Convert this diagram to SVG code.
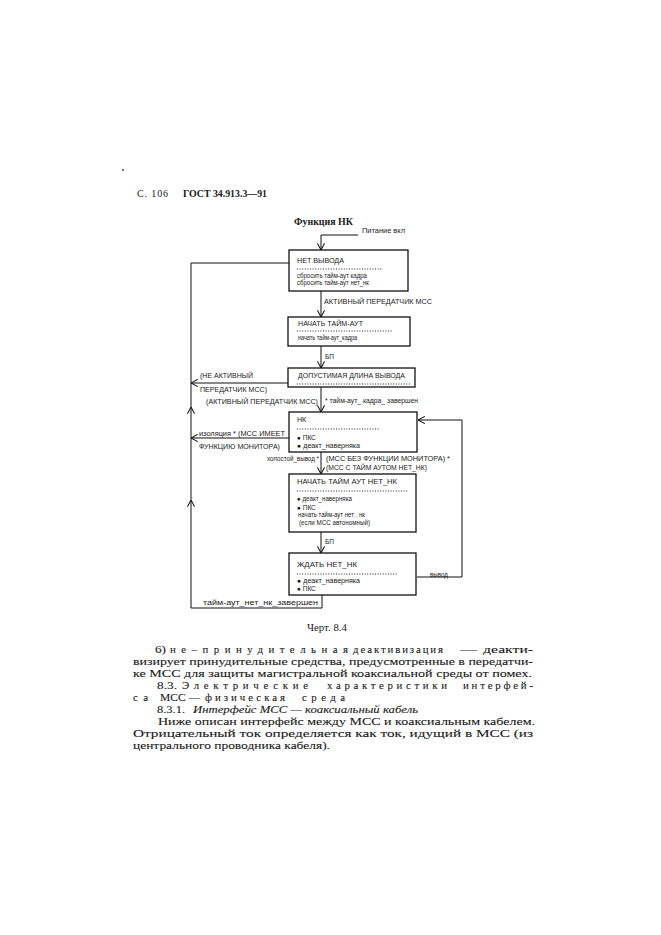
<svg xmlns="http://www.w3.org/2000/svg" width="661" height="935" viewBox="0 0 661 935">
<style>
.bx{fill:#fff;stroke:#111;stroke-width:1.3}
.ln{fill:none;stroke:#111;stroke-width:1}
.dt{stroke:#222;stroke-width:1;stroke-dasharray:1 1.6}
.t{font-family:"Liberation Sans",Arial,sans-serif;font-size:6.5px;fill:#1a1a1a}
.c{font-family:"Liberation Sans",Arial,sans-serif;font-size:7px;fill:#1a1a1a}
.s{font-family:"Liberation Serif","Times New Roman",serif;font-size:10.8px;fill:#1a1a1a;stroke:#1a1a1a;stroke-width:0.1}
.h{font-family:"Liberation Serif","Times New Roman",serif;font-size:10px;fill:#1a1a1a}
</style>
<defs>
<marker id="ar" viewBox="0 0 10 10" refX="9.5" refY="5" markerWidth="8" markerHeight="8" orient="auto" markerUnits="userSpaceOnUse">
<path d="M1,0.5 L9.5,5 L1,9.5" fill="none" stroke="#111" stroke-width="1.3"/>
</marker>
</defs>
<rect width="661" height="935" fill="#fff"/>
<circle cx="123" cy="170" r="0.9" fill="#333"/>
<g id="header">
<text class="h" x="137" y="197" textLength="31" lengthAdjust="spacing">С. 106</text>
<text class="h" x="183" y="197" font-weight="bold" textLength="84" lengthAdjust="spacingAndGlyphs">ГОСТ 34.913.3—91</text>
<text class="h" x="294" y="225" font-weight="bold" font-size="9.5" textLength="59" lengthAdjust="spacingAndGlyphs">Функция НК</text>
</g>
<g id="connectors">
<path class="ln" d="M358,235 L321,235 L321,250" marker-end="url(#ar)"/>
<path class="ln" d="M321,291 L321,317" marker-end="url(#ar)"/>
<path class="ln" d="M321,346 L321,368" marker-end="url(#ar)"/>
<path class="ln" d="M321,387 L321,412" marker-end="url(#ar)"/>
<path class="ln" d="M321,452 L321,474" marker-end="url(#ar)"/>
<path class="ln" d="M321,532 L321,553" marker-end="url(#ar)"/>
<path class="ln" d="M288,383 L191,383" marker-end="url(#ar)"/>
<path class="ln" d="M289,438 L191,438" marker-end="url(#ar)"/>
<path class="ln" d="M417,577 L462,577 L462,420 L418,420" marker-end="url(#ar)"/>
<path class="ln" d="M322,595 L322,608 L191,608 L191,500" marker-end="url(#ar)"/>
<path class="ln" d="M191,500 L191,407" marker-end="url(#ar)"/>
<path class="ln" d="M191,407 L191,263 L289,263"/>
<text class="t" x="362" y="233" textLength="43" lengthAdjust="spacingAndGlyphs">Питание вкл</text>
<text class="c" x="324" y="303.5" textLength="108" lengthAdjust="spacingAndGlyphs">АКТИВНЫЙ ПЕРЕДАТЧИК МСС</text>
<text class="t" x="325" y="358.5">БП</text>
<text class="t" x="200" y="377.5" textLength="53" lengthAdjust="spacingAndGlyphs">(НЕ АКТИВНЫЙ</text>
<text class="t" x="200" y="391.5" textLength="67" lengthAdjust="spacingAndGlyphs">ПЕРЕДАТЧИК МСС)</text>
<text class="t" x="206" y="403.5" textLength="112" lengthAdjust="spacingAndGlyphs">(АКТИВНЫЙ ПЕРЕДАТЧИК МСС)</text>
<text class="t" x="325" y="402.5" textLength="93" lengthAdjust="spacingAndGlyphs">* тайм-аут_ кадра_ завершен</text>
<text class="t" x="199" y="435.5" textLength="86" lengthAdjust="spacingAndGlyphs">изоляция * (МСС ИМЕЕТ</text>
<text class="t" x="199" y="448.5" textLength="81" lengthAdjust="spacingAndGlyphs">ФУНКЦИЮ МОНИТОРА)</text>
<text class="t" x="267" y="460.5" textLength="52" lengthAdjust="spacingAndGlyphs">холостой_вывод *</text>
<text class="t" x="326" y="460.5" textLength="124" lengthAdjust="spacingAndGlyphs">(МСС БЕЗ ФУНКЦИИ МОНИТОРА) *</text>
<text class="t" x="326" y="469.5" textLength="101" lengthAdjust="spacingAndGlyphs">(МСС С ТАЙМ АУТОМ НЕТ_НК)</text>
<text class="t" x="325" y="543.5">БП</text>
<text class="t" x="430" y="576.5" textLength="18" lengthAdjust="spacingAndGlyphs">вывод</text>
<text class="t" x="203" y="604.5" textLength="115" lengthAdjust="spacingAndGlyphs">тайм-аут_нет_нк_завершен</text>
</g>
<g id="n1">
<rect class="bx" x="289" y="250" width="119" height="41"/>
<text class="c" x="297" y="262.5" textLength="47" lengthAdjust="spacingAndGlyphs">НЕТ ВЫВОДА</text>
<line class="dt" x1="297" y1="269" x2="383" y2="269"/>
<text class="t" x="297" y="278" textLength="70" lengthAdjust="spacingAndGlyphs">сбросить тайм-аут кадра</text>
<text class="t" x="297" y="285" textLength="72" lengthAdjust="spacingAndGlyphs">сбросить тайм-аут нет_нк</text>
</g>
<g id="n2">
<rect class="bx" x="288" y="317" width="122" height="29"/>
<text class="c" x="298" y="325.5" textLength="65" lengthAdjust="spacingAndGlyphs">НАЧАТЬ ТАЙМ-АУТ</text>
<line class="dt" x1="297" y1="331" x2="393" y2="331"/>
<text class="t" x="298" y="340" textLength="59" lengthAdjust="spacingAndGlyphs">начать тайм-аут_кадра</text>
</g>
<g id="n3">
<rect class="bx" x="288" y="368" width="127" height="19"/>
<text class="c" x="298" y="377.5" textLength="107" lengthAdjust="spacingAndGlyphs">ДОПУСТИМАЯ ДЛИНА ВЫВОДА</text>
<line class="dt" x1="297" y1="384" x2="410" y2="384"/>
</g>
<g id="n4">
<rect class="bx" x="289" y="412" width="128" height="40"/>
<text class="c" x="297" y="421.5">НК</text>
<line class="dt" x1="297" y1="429" x2="380" y2="429"/>
<text class="t" x="297" y="439.5">● ПКС</text>
<text class="t" x="297" y="448" textLength="63" lengthAdjust="spacingAndGlyphs">● деакт_наверняка</text>
</g>
<g id="n5">
<rect class="bx" x="289" y="474" width="127" height="58"/>
<text class="c" x="297" y="483.5" textLength="100" lengthAdjust="spacingAndGlyphs">НАЧАТЬ ТАЙМ АУТ НЕТ_НК</text>
<line class="dt" x1="297" y1="491" x2="408" y2="491"/>
<text class="t" x="297" y="501" textLength="55" lengthAdjust="spacingAndGlyphs">● деакт_наверняка</text>
<text class="t" x="297" y="509.5">● ПКС</text>
<text class="t" x="298" y="516.5" textLength="67" lengthAdjust="spacingAndGlyphs">начать тайм-аут  нет . нк</text>
<text class="t" x="299" y="524.5" textLength="71" lengthAdjust="spacingAndGlyphs">(если МСС автономный)</text>
</g>
<g id="n6">
<rect class="bx" x="289" y="553" width="127" height="42"/>
<text class="c" x="297" y="566.5" textLength="60" lengthAdjust="spacingAndGlyphs">ЖДАТЬ НЕТ_НК</text>
<line class="dt" x1="297" y1="574" x2="397" y2="574"/>
<text class="t" x="297" y="583" textLength="63" lengthAdjust="spacingAndGlyphs">● деакт_наверняка</text>
<text class="t" x="297" y="590.5">● ПКС</text>
</g>
<g id="caption">
<text class="h" x="307" y="631" textLength="40" lengthAdjust="spacingAndGlyphs">Черт. 8.4</text>
</g>
<g id="body">
<text class="s" x="155" y="653" textLength="11" lengthAdjust="spacingAndGlyphs">6)</text>
<text class="s" x="170" y="653" textLength="178" lengthAdjust="spacing">не–принудительная</text>
<text class="s" x="353" y="653" textLength="90" lengthAdjust="spacing">деактивизация</text>
<text class="s" x="460" y="653" textLength="17" lengthAdjust="spacingAndGlyphs">—</text>
<text class="s" x="483" y="653" textLength="50" lengthAdjust="spacingAndGlyphs">деакти-</text>
<text class="s" x="133" y="665" textLength="400" lengthAdjust="spacingAndGlyphs">визирует принудительные средства, предусмотренные в передатчи-</text>
<text class="s" x="133" y="677" textLength="399" lengthAdjust="spacingAndGlyphs">ке МСС для защиты магистральной коаксиальной среды от помех.</text>
<text class="s" x="157" y="689" textLength="20" lengthAdjust="spacingAndGlyphs">8.3.</text>
<text class="s" x="182" y="689" textLength="126" lengthAdjust="spacing">Электрические</text>
<text class="s" x="327" y="689" textLength="120" lengthAdjust="spacing">характеристики</text>
<text class="s" x="463" y="689" textLength="70" lengthAdjust="spacing">интерфей-</text>
<text class="s" x="133" y="701" textLength="15" lengthAdjust="spacing">са</text>
<text class="s" x="160" y="701" textLength="40" lengthAdjust="spacingAndGlyphs">МСС —</text>
<text class="s" x="205" y="701" textLength="80" lengthAdjust="spacing">физическая</text>
<text class="s" x="302" y="701" textLength="43" lengthAdjust="spacing">среда</text>
<text class="s" x="157" y="713" textLength="28" lengthAdjust="spacingAndGlyphs">8.3.1.</text>
<text class="s" x="193" y="713" font-style="italic" textLength="225" lengthAdjust="spacingAndGlyphs">Интерфейс МСС — коаксиальный кабель</text>
<text class="s" x="158" y="725" textLength="377" lengthAdjust="spacingAndGlyphs">Ниже описан интерфейс между МСС и коаксиальным кабелем.</text>
<text class="s" x="133" y="737" textLength="400" lengthAdjust="spacingAndGlyphs">Отрицательный ток  определяется как  ток,  идущий в МСС  (из</text>
<text class="s" x="133" y="749" textLength="197" lengthAdjust="spacingAndGlyphs">центрального проводника кабеля).</text>
</g>
</svg>
